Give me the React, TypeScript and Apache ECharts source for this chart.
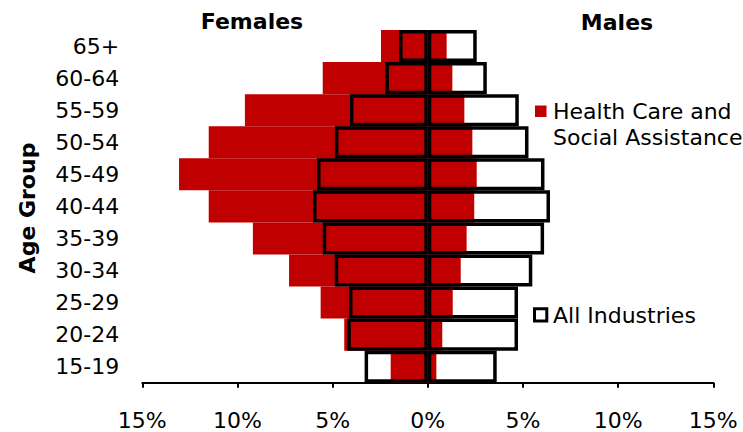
import React, { useEffect, useRef } from "react";
import * as echarts from "echarts";

const categories = ["15-19", "20-24", "25-29", "30-34", "35-39", "40-44", "45-49", "50-54", "55-59", "60-64", "65+"];
const hcFemales = [1.95, 4.39, 5.63, 7.29, 9.19, 11.51, 13.07, 11.51, 9.61, 5.52, 2.46];
const hcMales = [0.45, 0.76, 1.31, 1.73, 2.04, 2.44, 2.57, 2.34, 1.92, 1.29, 0.99];
const allFemales = [3.32, 4.23, 4.14, 4.89, 5.52, 6.03, 5.82, 4.88, 4.09, 2.23, 1.51];
const allMales = [3.62, 4.74, 4.74, 5.49, 6.11, 6.42, 6.13, 5.29, 4.78, 3.1, 2.57];

const FONT = "'DejaVu Sans', Verdana, sans-serif";
const RED = "#C00000";

export default function App() {
  const ref = useRef<HTMLDivElement>(null);
  useEffect(() => {
    if (!ref.current) return;
    const chart = echarts.init(ref.current, undefined, { renderer: "svg" });
    const hcName = "Health Care and Social Assistance";
    const allName = "All Industries";
    const outlineStyle = { color: "rgba(0,0,0,0)", borderColor: "#000", borderWidth: 3.5 };
    chart.setOption({
      animation: false,
      backgroundColor: "#fff",
      grid: { left: 142.3, right: 29.7, top: 30, bottom: 49.3, containLabel: false },
      xAxis: {
        type: "value",
        min: -15,
        max: 15,
        interval: 5,
        axisLine: { show: true, lineStyle: { color: "#000", width: 2 } },
        axisTick: { show: true, inside: false, length: 5, lineStyle: { color: "#000", width: 2 } },
        splitLine: { show: false },
        axisLabel: {
          margin: 27,
          color: "#000",
          fontFamily: FONT,
          fontSize: 22,
          formatter: (v: number) => Math.abs(v) + "%",
        },
      },
      yAxis: {
        type: "category",
        data: categories,
        axisLine: { show: false },
        axisTick: { show: false },
        axisLabel: { margin: 23, color: "#000", fontFamily: FONT, fontSize: 22 },
      },
      series: [
        {
          name: hcName,
          type: "bar",
          data: hcFemales.map((v) => -v),
          barGap: "-100%",
          barCategoryGap: "0%",
          itemStyle: { color: RED },
        },
        {
          name: hcName,
          type: "bar",
          data: hcMales,
          barGap: "-100%",
          barCategoryGap: "0%",
          itemStyle: { color: RED },
        },
        {
          name: allName,
          type: "bar",
          data: allFemales.map((v) => -v),
          barGap: "-100%",
          barCategoryGap: "0%",
          itemStyle: outlineStyle,
        },
        {
          name: allName,
          type: "bar",
          data: allMales,
          barGap: "-100%",
          barCategoryGap: "0%",
          itemStyle: outlineStyle,
        },
      ],
      graphic: [
        {
          type: "text",
          x: 252,
          y: 21,
          style: { text: "Females", align: "center", verticalAlign: "middle", font: `bold 22px ${FONT}`, fill: "#000" },
        },
        {
          type: "text",
          x: 617,
          y: 22,
          style: { text: "Males", align: "center", verticalAlign: "middle", font: `bold 22px ${FONT}`, fill: "#000" },
        },
        {
          type: "text",
          x: 27,
          y: 208,
          rotation: Math.PI / 2,
          style: { text: "Age Group", align: "center", verticalAlign: "middle", font: `bold 22px ${FONT}`, fill: "#000" },
        },
        {
          type: "rect",
          shape: { x: 535, y: 105.5, width: 11.5, height: 11.5 },
          style: { fill: RED },
        },
        {
          type: "text",
          x: 553,
          y: 98.6,
          style: {
            text: "Health Care and\nSocial Assistance",
            align: "left",
            verticalAlign: "top",
            lineHeight: 26,
            font: `22px ${FONT}`,
            fill: "#000",
          },
        },
        {
          type: "rect",
          shape: { x: 534.5, y: 308.8, width: 12.3, height: 12.3 },
          style: { fill: "#fff", stroke: "#000", lineWidth: 3 },
        },
        {
          type: "text",
          x: 553,
          y: 315.6,
          style: { text: "All Industries", align: "left", verticalAlign: "middle", font: `22px ${FONT}`, fill: "#000" },
        },
      ],
    });
    return () => chart.dispose();
  }, []);
  return (
    <div
      ref={ref}
      style={{ position: "fixed", left: 0, top: 0, width: 743, height: 432, background: "#fff" }}
    />
  );
}
